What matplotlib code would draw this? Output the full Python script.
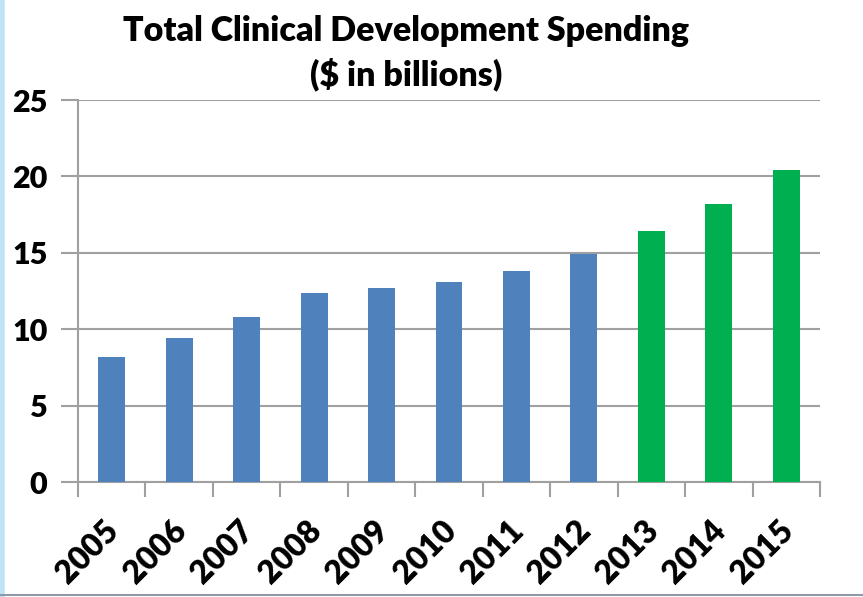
import numpy as np
import matplotlib
matplotlib.use("Agg")
import matplotlib.pyplot as plt
import matplotlib.transforms as mtrans
from matplotlib.lines import Line2D

years = ["2005", "2006", "2007", "2008", "2009", "2010", "2011", "2012", "2013", "2014", "2015"]
spending = [8.2, 9.4, 10.8, 12.4, 12.7, 13.1, 13.8, 14.9, 16.4, 18.2, 20.4]
projected = [False] * 8 + [True] * 3

plt.rcParams['font.family'] = ['Lato', 'DejaVu Sans']

fig = plt.figure(figsize=(8.63, 5.97), dpi=100)
ax = fig.add_axes([78 / 863, 1 - 482 / 597, (820 - 78) / 863, (482 - 100) / 597])

x = np.arange(len(years))
colors = ['#00B050' if p else '#4F81BD' for p in projected]
ax.bar(x, spending, width=0.4, color=colors, zorder=3)

ax.set_xlim(-0.5, len(years) - 0.5)
ax.set_ylim(0, 25)
ax.set_yticks(range(0, 26, 5))
ax.yaxis.grid(True, color='#A0A0A0', linewidth=1.5, zorder=0)
ax.tick_params(axis='y', length=12, width=1.5, color='#A0A0A0', labelsize=22, pad=10)
for lab in ax.get_yticklabels():
    lab.set_fontweight('heavy')

# category ticks sit between bars
ax.set_xticks(np.arange(-0.5, len(years), 1.0))
ax.set_xticklabels([])
ax.set_xticks(x, minor=True)
ax.set_xticklabels(years, minor=True, rotation=45, ha='right', rotation_mode='anchor',
                   fontsize=23, fontweight='heavy')
ax.tick_params(axis='x', which='major', length=11, width=1.5, color='#A0A0A0')
ax.tick_params(axis='x', which='minor', length=0, pad=24)
shift = mtrans.ScaledTranslation(-0.08, 0, fig.dpi_scale_trans)
for lab in ax.get_xticklabels(minor=True):
    lab.set_transform(lab.get_transform() + shift)

for s in ['top', 'right']:
    ax.spines[s].set_visible(False)
for s in ['left', 'bottom']:
    ax.spines[s].set_color('#A0A0A0')
    ax.spines[s].set_linewidth(1.5)

fig.text(406 / 863, 1 - 31 / 597, "Total Clinical Development Spending", ha='center', va='center',
         fontsize=24.5, fontweight='heavy')
fig.text(406 / 863, 1 - 74 / 597, "($ in billions)", ha='center', va='center',
         fontsize=24.5, fontweight='heavy')

# slide frame edges
fig.add_artist(Line2D([0.002, 0.002], [0, 1], color='#BFE3F7', linewidth=4, transform=fig.transFigure))
fig.add_artist(Line2D([0, 1], [0.004, 0.004], color='#8E9AA6', linewidth=1.5, transform=fig.transFigure))

fig.savefig("out.png", dpi=100)
